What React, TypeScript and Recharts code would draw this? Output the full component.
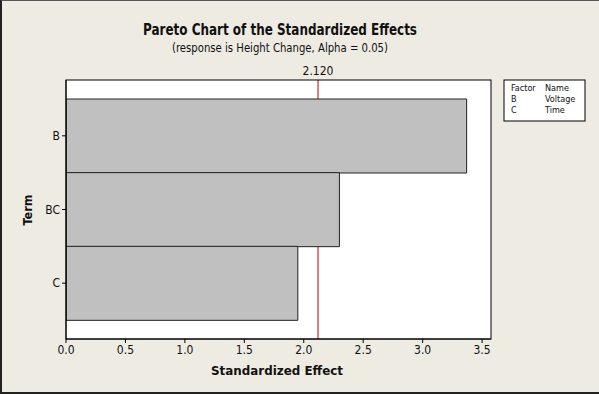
import { BarChart, Bar, XAxis, YAxis, CartesianGrid, ReferenceLine } from 'recharts';

const terms = ['B', 'BC', 'C'];
const effects = [3.37, 2.3, 1.95];
const xTicks = [0, 0.5, 1.0, 1.5, 2.0, 2.5, 3.0, 3.5];
const criticalValue = 2.12;
const legendRows = [
  ['Factor', 'Name'],
  ['B', 'Voltage'],
  ['C', 'Time'],
];

const data = terms.map((t, i) => ({ term: t, effect: effects[i] }));

const font = 'Tahoma, "DejaVu Sans Condensed", "DejaVu Sans", sans-serif';

export default function App() {
  return (
    <div
      style={{
        position: 'absolute',
        left: 0,
        top: 0,
        width: 599,
        height: 394,
        background: '#eeebe3',
        boxSizing: 'border-box',
        borderLeft: '2px solid #222',
        borderBottom: '2px solid #222',
        borderTop: '1px solid #555',
        fontFamily: font,
      }}
    >
      <div style={{ position: 'absolute', left: -2, top: -1 }}>
        <BarChart
          width={599}
          height={394}
          data={data}
          layout="vertical"
          margin={{ top: 80, right: 108, left: 26, bottom: 25 }}
          barCategoryGap={0}
        >
          <CartesianGrid fill="#ffffff" horizontal={false} vertical={false} />
          <XAxis
            type="number"
            domain={[0, 3.575]}
            ticks={xTicks}
            tickFormatter={(v: number) => v.toFixed(1)}
            allowDataOverflow
            height={30}
            stroke="#000"
            tickSize={4}
            tick={{ fill: '#111', fontSize: 12, fontFamily: font }}
          />
          <YAxis
            type="category"
            dataKey="term"
            width={40}
            padding={{ top: 19, bottom: 19 }}
            stroke="#000"
            tickSize={4}
            tick={{ fill: '#111', fontSize: 12, fontFamily: font }}
          />
          <ReferenceLine
            x={criticalValue}
            stroke="#c00000"
            strokeWidth={1}
            zIndex={0}
            label={{
              value: criticalValue.toFixed(3),
              position: 'top',
              fill: '#111',
              fontSize: 12,
              fontFamily: font,
            }}
          />
          <Bar
            dataKey="effect"
            fill="#c0c0c0"
            stroke="#222"
            strokeWidth={1}
            isAnimationActive={false}
          />
        </BarChart>
      </div>
      <svg
        width={599}
        height={394}
        style={{ position: 'absolute', left: -2, top: -1, pointerEvents: 'none' }}
        fontFamily={font}
      >
        <rect x={66} y={80} width={425} height={259} fill="none" stroke="#000" strokeWidth={1} />
        <text x={280} y={35} textAnchor="middle" fontSize={16} fontWeight="bold" fill="#111" textLength={274} lengthAdjust="spacingAndGlyphs">
          Pareto Chart of the Standardized Effects
        </text>
        <text x={280} y={52} textAnchor="middle" fontSize={13} fill="#111" textLength={216} lengthAdjust="spacingAndGlyphs">
          (response is Height Change, Alpha = 0.05)
        </text>
        <text x={277} y={375} textAnchor="middle" fontSize={12.5} fontWeight="bold" fill="#111" textLength={132} lengthAdjust="spacingAndGlyphs">
          Standardized Effect
        </text>
        <text x={32} y={210} textAnchor="middle" fontSize={12.5} fontWeight="bold" fill="#111" transform="rotate(-90 32 210)">
          Term
        </text>
        <rect x={504} y={80} width={81} height={41} fill="#fff" stroke="#000" strokeWidth={1} />
        {legendRows.map((r, i) => (
          <g key={i} fontSize={9} fill="#111">
            <text x={511} y={91 + i * 11}>{r[0]}</text>
            <text x={545} y={91 + i * 11}>{r[1]}</text>
          </g>
        ))}
      </svg>
    </div>
  );
}
